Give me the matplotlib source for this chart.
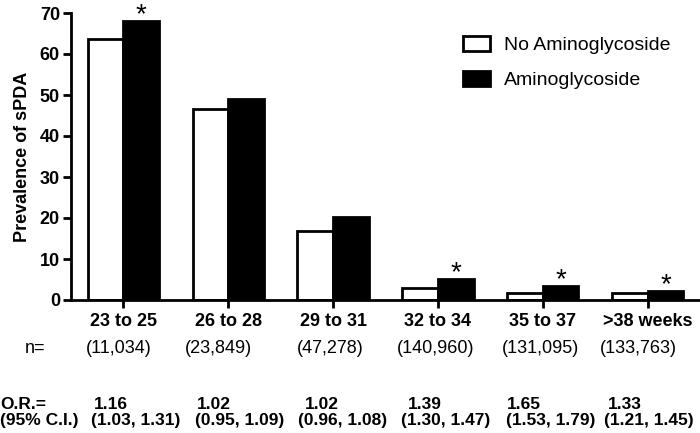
import matplotlib
matplotlib.use("Agg")
import matplotlib.pyplot as plt
import matplotlib.transforms as mtransforms
import numpy as np

plt.rcParams['font.family'] = ['Liberation Sans', 'DejaVu Sans']

# data
groups = ['23 to 25', '26 to 28', '29 to 31', '32 to 34', '35 to 37', '>38 weeks']
no_amino = [63.7, 46.6, 16.9, 2.9, 1.8, 1.8]
amino = [68.0, 49.0, 20.3, 5.1, 3.4, 2.2]
significant = [True, False, False, True, True, True]
n_counts = ['(11,034)', '(23,849)', '(47,278)', '(140,960)', '(131,095)', '(133,763)']
odds_ratio = ['1.16', '1.02', '1.02', '1.39', '1.65', '1.33']
conf_int = ['(1.03, 1.31)', '(0.95, 1.09)', '(0.96, 1.08)', '(1.30, 1.47)', '(1.53, 1.79)', '(1.21, 1.45)']

# left edges (pixels) of the text columns under the axis
n_left_px = [86, 185, 297, 397, 502, 600]
or_left_px = [94, 197, 305, 408, 507, 608]
ci_left_px = [91, 195, 298, 401, 506, 604]

W, H = 700, 433
x = np.arange(len(groups))
w = 0.34

fig = plt.figure(figsize=(7, 4.33), dpi=100)
ax = fig.add_axes([71 / W, 1 - 300 / H, 1 - 71 / W, 287 / H])

ax.bar(x - w / 2, no_amino, w, color='white', edgecolor='black', linewidth=2,
       label='No Aminoglycoside')
ax.bar(x + w / 2, amino, w, color='black', edgecolor='black', linewidth=2,
       label='Aminoglycoside')

for xi, val, sig in zip(x, amino, significant):
    if sig:
        ax.annotate('*', (xi + w / 2, val), xytext=(0, -1), textcoords='offset points',
                    ha='center', va='baseline', fontsize=20, annotation_clip=False)

ax.set_xlim(-0.5, 5.5)
ax.set_ylim(0, 70)
ax.set_yticks(range(0, 71, 10))
ax.set_xticks(x)
ax.set_xticklabels([])
ax.spines['top'].set_visible(False)
ax.spines['right'].set_visible(False)
ax.spines['left'].set_linewidth(2)
ax.spines['bottom'].set_linewidth(2)
ax.tick_params(axis='both', width=2, length=6, labelsize=13, pad=2)
for lbl in ax.get_yticklabels():
    lbl.set_fontweight('bold')
ax.set_ylabel('Prevalence of sPDA', fontsize=13, fontweight='bold', labelpad=6)

ax.legend(loc='upper left', bbox_to_anchor=(457 / W, 1 - 30 / H), bbox_transform=fig.transFigure,
          frameon=False, fontsize=14, handlelength=1.4, handleheight=0.85,
          labelspacing=0.85, handletextpad=0.7, borderaxespad=0, borderpad=0.3)

trans = mtransforms.blended_transform_factory(ax.transData, fig.transFigure)
for xi, g in zip(x, groups):
    fig.text(xi, 1 - 326 / H, g, transform=trans, ha='center', va='baseline',
             fontsize=13, fontweight='bold')

for n, nx, o, ox, c, cx in zip(n_counts, n_left_px, odds_ratio, or_left_px, conf_int, ci_left_px):
    fig.text(nx / W, 1 - 353 / H, n, ha='left', va='baseline', fontsize=13)
    fig.text(ox / W, 1 - 409 / H, o, ha='left', va='baseline',
             fontsize=12.5, fontweight='bold')
    fig.text(cx / W, 1 - 425 / H, c, ha='left', va='baseline',
             fontsize=12.5, fontweight='bold')

fig.text(35 / W, 1 - 353 / H, 'n=', ha='center', va='baseline', fontsize=13)
fig.text(0.0, 1 - 409 / H, 'O.R.=', ha='left', va='baseline', fontsize=12.5, fontweight='bold')
fig.text(0.0, 1 - 425 / H, '(95% C.I.)', ha='left', va='baseline', fontsize=12.5,
         fontweight='bold')

fig.savefig('out.png', dpi=100)
